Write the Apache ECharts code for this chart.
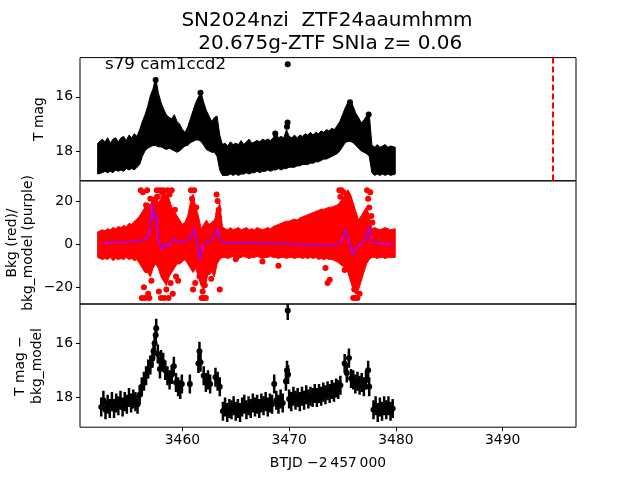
<!DOCTYPE html>
<html>
<head>
<meta charset="utf-8">
<script src="https://cdn.jsdelivr.net/npm/echarts@6/dist/echarts.min.js"></script>
<style>html,body{margin:0;background:#fff}#chart{width:640px;height:480px}</style>
</head>
<body>
<div id="chart"></div>
<script>
// time grid used by the dense light curve and background panels (BTJD - 2457000)
var gridStart = 3452.25;
var gridStep = 0.25;

// top panel: envelope of the raw TESS points (bright edge / faint edge, mag)
var topBright = [17.8,17.65,17.75,17.6,17.8,17.65,17.6,17.75,17.6,17.55,17.7,17.5,17.6,17.45,17.55,
  17.3,17.0,16.75,16.45,16.05,15.8,15.38,15.95,16.3,16.55,16.75,16.85,16.9,16.75,17.0,17.1,
  17.3,17.4,17.2,16.9,16.6,16.3,16.1,15.95,16.3,16.6,16.8,17.0,16.85,16.8,17.5,17.85,
  17.8,17.9,17.75,17.85,17.8,17.85,17.7,17.85,17.75,17.65,17.8,17.75,17.7,17.75,17.65,17.7,
  17.65,17.7,17.6,17.4,17.6,17.55,17.6,17.3,17.55,17.6,17.5,17.6,17.5,17.55,17.45,17.5,
  17.4,17.5,17.4,17.45,17.35,17.4,17.3,17.35,17.25,17.3,17.15,17.0,16.75,16.5,16.3,16.2,
  16.45,16.7,16.85,17.05,16.95,16.8,16.7,17.85,17.95,17.85,17.95,17.9,17.85,17.95,17.9,17.95];
var topFaint = [18.75,18.7,18.65,18.7,18.65,18.7,18.6,18.65,18.6,18.65,18.55,18.6,18.55,18.6,18.5,
  18.4,18.1,17.9,17.8,17.75,17.7,17.7,17.75,17.75,17.8,17.85,17.8,17.85,17.9,17.95,17.9,
  17.8,17.72,17.7,17.6,17.55,17.5,17.5,17.55,17.7,17.85,17.9,17.95,17.95,18.1,18.6,18.8,
  18.8,18.8,18.75,18.8,18.75,18.8,18.75,18.75,18.7,18.75,18.7,18.7,18.65,18.7,18.65,18.65,
  18.6,18.65,18.6,18.6,18.55,18.6,18.55,18.55,18.5,18.5,18.5,18.45,18.45,18.4,18.4,18.4,
  18.35,18.35,18.3,18.3,18.25,18.2,18.2,18.15,18.1,18.05,18.0,17.9,17.75,17.6,17.55,17.55,
  17.6,17.7,17.8,17.9,17.95,18.0,18.1,18.7,18.8,18.75,18.8,18.75,18.8,18.75,18.8,18.75];
var topExtraDay = [3469.87, 3469.85, 3469.8, 3468.7, 3461.7, 3457.5, 3475.7, 3477.45];
var topExtraMag = [14.8, 16.95, 17.1, 17.35, 15.85, 15.38, 16.2, 16.65];
var snDay = 3494.7;

// middle panel: background flux envelope (red) and model (purple)
var bkgHi = [4.5,5.5,5,6,5.5,6.5,6,7,6.5,7.5,7,8.5,8,9.5,10.5,
  12,14,16,18,17,20,22,18,20,24,22,20,16,14,12,10,
  8,9,12,18,22,16,12,6,8,10,8,9,10,14,18,7,
  6,5.5,6.5,5.5,6,6.5,5.5,6,6.5,5.5,6,5.5,6.5,6,5.5,6,
  6.5,6,7,7.5,8,8.5,9,9.5,9.5,10,10.5,10,11,11.5,12,12.5,
  13,13.5,14,14.5,15,15,15.5,16,16,16.5,17,18,20,22,24,22,
  18,14,10,12,14,16,12,6,6.5,6,5.5,6,6.5,6,5.5,6];
var bkgLo = [-5,-6,-5.5,-6,-5,-6.5,-5.5,-6,-5.5,-6,-5,-6,-5.5,-6.5,-6,
  -8,-10,-12,-12,-14,-10,-8,-10,-14,-16,-18,-14,-12,-10,-8,-8,
  -7,-6,-8,-10,-12,-10,-14,-18,-20,-16,-10,-12,-14,-8,-6,-5,
  -5,-5.5,-5,-4.5,-5,-5.5,-5,-4.5,-5,-5.5,-5,-5,-4.5,-5,-5.5,-5,
  -5,-4.5,-5,-5,-5.5,-5,-5,-5.5,-5,-5,-5.5,-5,-5,-5.5,-5,-5.5,
  -5,-5.5,-5,-6,-5.5,-6,-5.5,-6,-6,-6.5,-7,-8,-9,-10,-12,-16,
  -20,-22,-20,-16,-12,-8,-6,-5,-5,-5.5,-5,-5,-5.5,-5,-5,-5];
var bkgOutDay = [3456.1,3456.2,3456.3,3456.4,3456.5,3456.6,3456.7,3456.8,3456.9,3457.0,3457.1,
  3457.6,3457.7,3457.8,3457.9,3458.0,3458.1,3458.2,3458.3,3458.4,3458.5,3458.6,3458.7,3458.8,3458.9,
  3459.0,3459.1,3459.3,3459.4,3459.6,3460.8,3460.9,3461.0,3461.1,3461.2,3461.3,
  3461.6,3461.8,3461.9,3462.0,3462.1,3462.2,3462.4,3462.7,3463.2,3463.3,3463.4,3463.5,3463.35,
  3465.0,3467.5,3469.0,3473.4,3473.6,3473.8,
  3474.7,3474.8,3474.9,3475.0,3475.1,3475.2,3476.0,3476.1,3476.2,3476.3,3476.4,3476.5,3476.6,
  3477.3,3477.4,3477.5,3477.6,3477.7,3477.8];
var bkgOutVal = [25,-25,24,-20,-25,18,25,-23,-25,21,-17,
  25,22,-22,25,-25,24,25,-25,20,-21,25,-25,23,-18,
  25,-23,16,-15,-17,25,21,-21,25,-18,17,
  -15,-25,-22,-25,-19,-25,-13,-16,23,20,16,-21,14,
  -7,-8,-10,-11,-18,-16.5,
  25,22,25,19,24,-12,-25,-21,-25,-18,-25,-14,-23,
  25,21,17,24,13,10];
var modelDay = [3452.44,3453.5,3455.1,3456.35,3456.66,3456.97,3457.2,3457.4,3457.6,3457.75,3458.07,
  3458.4,3458.7,3459.2,3459.5,3460.1,3460.7,3461.1,3461.35,3461.66,3461.9,3462.3,3462.75,3463.07,
  3463.3,3463.5,3463.85,3466.0,3469.2,3472.3,3474.2,3474.9,3475.25,3475.4,3475.65,3475.97,3476.3,
  3476.8,3477.2,3477.5,3477.75,3478.5,3479.8];
var modelVal = [0.3,0.8,1.1,1.9,2.6,6.5,18.8,11.1,13.4,1.9,-2.7,
  0.3,-1.2,2.6,1.1,1.1,2.6,7.2,1.1,-7.4,-1.2,1.1,1.9,5.0,
  7.2,1.9,0.6,0.6,0.3,-0.5,-0.5,1.1,6.5,7.2,1.1,-5.1,-1.2,
  0.3,2.6,8.0,1.1,0.3,0.0];

// bottom panel: binned T mag - bkg_model with error bars
var resDay = [3452.4,3452.6,3452.8,3453.0,3453.2,3453.4,3453.6,3453.8,3454.0,3454.2,3454.4,3454.6,
  3454.8,3455.0,3455.2,3455.4,3455.6,3455.8,3456.0,3456.2,3456.4,3456.6,3456.8,3457.0,3457.2,3457.3,
  3457.4,3457.5,3457.55,3457.7,3457.9,3458.0,3458.2,3458.4,3458.6,3458.8,3459.0,3459.2,3459.4,3459.6,
  3459.8,3459.95,3460.7,3461.5,3461.6,3461.7,3462.0,3462.2,3462.4,3462.6,3463.1,3463.3,3463.5,
  3463.8,3464.0,3464.2,3464.4,3464.6,3464.8,3465.0,3465.2,3465.4,3465.6,3465.8,3466.0,3466.2,3466.4,
  3466.6,3466.8,3467.0,3467.2,3467.4,3467.6,3467.8,3468.0,3468.2,3468.4,3468.6,3468.8,3469.0,3469.2,
  3469.4,3469.7,3469.8,3469.87,3469.9,3470.0,3470.2,3470.4,3470.6,3470.8,3471.0,3471.2,3471.4,3471.6,
  3471.8,3472.0,3472.2,3472.4,3472.6,3472.8,3473.0,3473.2,3473.4,3473.6,3473.8,3474.0,3474.2,3474.4,
  3474.6,3474.8,3475.2,3475.4,3475.6,3475.8,3476.0,3476.2,3476.4,3476.6,3476.8,3477.0,3477.2,3477.4,
  3477.5,3477.9,3478.1,3478.3,3478.5,3478.7,3478.9,3479.1,3479.3,3479.5,3479.7];
var resMag = [18.35,18.1,18.45,18.25,18.4,18.15,18.4,18.2,18.3,18.1,18.35,18.15,
  18.25,18.0,18.2,18.05,18.15,18.25,17.9,17.6,17.4,17.2,16.95,16.8,16.55,16.3,
  16.0,15.7,15.45,16.4,16.95,16.6,16.7,17.0,17.2,17.35,17.15,16.85,17.45,17.6,
  17.7,17.5,17.5,16.75,16.3,16.7,17.2,17.45,17.35,17.5,17.25,17.4,17.6,
  18.5,18.35,18.55,18.4,18.45,18.3,18.5,18.4,18.55,18.35,18.25,18.45,18.3,18.4,
  18.2,18.35,18.25,18.4,18.2,18.3,18.15,18.35,18.2,18.25,17.5,18.1,18.25,18.05,
  18.2,17.4,17.0,14.8,17.15,18.05,18.15,17.95,18.1,18.0,18.15,17.95,18.1,17.9,
  18.05,17.95,18.0,17.85,18.0,17.85,17.95,17.8,17.9,17.75,17.85,17.7,17.8,17.65,
  17.7,17.55,16.75,17.1,16.55,17.3,17.35,17.5,17.4,17.55,17.45,17.6,17.35,17.0,
  17.6,18.45,18.3,18.55,18.35,18.5,18.3,18.45,18.3,18.5,18.4];
var resErr = 0.35;

var xMin = 3450.41, xMax = 3496.87;
var magMin = 14.56, magMax = 19.09;
var bkgMin = -27.74, bkgMax = 29.36;
var xTicks = [3460, 3470, 3480, 3490];

var font = 'DejaVu Sans';
var chart = echarts.init(document.getElementById('chart'));

var topBand = topBright.map(function (v, i) { return [gridStart + i * gridStep, v, topFaint[i]]; });
var bkgBand = bkgHi.map(function (v, i) { return [gridStart + i * gridStep, v, bkgLo[i]]; });
var topExtra = topExtraDay.map(function (d, i) { return [d, topExtraMag[i]]; });
var bkgOut = bkgOutDay.map(function (d, i) { return [d, bkgOutVal[i]]; });
var model = modelDay.map(function (d, i) { return [d, modelVal[i]]; });
var res = resDay.map(function (d, i) { return [d, resMag[i], resErr]; });

// one filled envelope through all samples, padded by a marker radius
function band(color, arr) {
  return function (params, api) {
    if (params.dataIndex !== 0) return;
    var upper = [], lower = [];
    arr.forEach(function (p) {
      var a = api.coord([p[0], p[1]]);
      var b = api.coord([p[0], p[2]]);
      upper.push([a[0], a[1] - 2.5]);
      lower.unshift([b[0], b[1] + 2.5]);
    });
    var first = upper[0][0], last = upper[upper.length - 1][0];
    upper[0][0] = first - 2; upper[upper.length - 1][0] = last + 2;
    lower[0][0] = last + 2; lower[lower.length - 1][0] = first - 2;
    return {
      type: 'polygon',
      shape: { points: upper.concat(lower) },
      style: { fill: color, stroke: color, lineWidth: 1 }
    };
  };
}

function errBar(params, api) {
  var x = api.value(0), y = api.value(1), e = api.value(2);
  var a = api.coord([x, y - e]);
  var b = api.coord([x, y + e]);
  return {
    type: 'line',
    shape: { x1: a[0], y1: a[1], x2: b[0], y2: b[1] },
    style: { stroke: '#000', lineWidth: 2.5 }
  };
}

function fmt(v) { return v < 0 ? '\u2212' + (-v) : String(v); }

function xAxis(idx, labels) {
  return {
    type: 'value', gridIndex: idx, min: xMin, max: xMax,
    axisLine: { show: false }, splitLine: { show: false },
    axisTick: { show: labels, customValues: xTicks, length: 4, lineStyle: { color: '#000' } },
    axisLabel: { show: labels, customValues: xTicks, color: '#000', fontSize: 13.9, fontFamily: font, margin: 6, formatter: fmt }
  };
}
function yAxis(idx, min, max, ticks, inverse) {
  return {
    type: 'value', gridIndex: idx, min: min, max: max, inverse: inverse,
    axisLine: { show: false }, splitLine: { show: false },
    axisTick: { show: true, customValues: ticks, length: 4, lineStyle: { color: '#000' } },
    axisLabel: { customValues: ticks, color: '#000', fontSize: 13.9, fontFamily: font, margin: 7, formatter: fmt }
  };
}

var gridBase = { left: 80, width: 496, height: 123.2, show: true, borderColor: '#000', borderWidth: 1, backgroundColor: 'transparent' };

function txt(x, y, s, size, rot, align) {
  return {
    type: 'text', x: x, y: y, rotation: rot || 0, z: 100,
    style: { text: s, fill: '#000', fontSize: size, fontFamily: font, align: align || 'center', verticalAlign: 'middle' }
  };
}

chart.setOption({
  animation: false,
  grid: [
    Object.assign({ top: 57.6 }, gridBase),
    Object.assign({ top: 180.8 }, gridBase),
    Object.assign({ top: 304 }, gridBase)
  ],
  xAxis: [xAxis(0, false), xAxis(1, false), xAxis(2, true)],
  yAxis: [
    yAxis(0, magMin, magMax, [16, 18], true),
    yAxis(1, bkgMin, bkgMax, [-20, 0, 20], false),
    yAxis(2, magMin, magMax, [16, 18], true)
  ],
  series: [
    {
      type: 'custom', xAxisIndex: 0, yAxisIndex: 0, clip: true,
      renderItem: band('#000', topBand), data: topBand, encode: { x: 0, y: [1, 2] },
      markLine: {
        silent: true, symbol: 'none', label: { show: false },
        lineStyle: { color: '#ff0000', type: [6, 3], width: 2 },
        data: [{ xAxis: snDay }]
      }
    },
    {
      type: 'scatter', xAxisIndex: 0, yAxisIndex: 0, symbolSize: 6,
      itemStyle: { color: '#000', opacity: 1 }, data: topExtra
    },
    {
      type: 'custom', xAxisIndex: 1, yAxisIndex: 1, clip: true, z: 1,
      renderItem: band('#ff0000', bkgBand), data: bkgBand, encode: { x: 0, y: [1, 2] }
    },
    {
      type: 'scatter', xAxisIndex: 1, yAxisIndex: 1, symbolSize: 6, z: 2,
      itemStyle: { color: '#ff0000', opacity: 1 }, data: bkgOut
    },
    {
      type: 'line', xAxisIndex: 1, yAxisIndex: 1, z: 3, showSymbol: false,
      lineStyle: { color: '#b000c8', width: 2.2 }, data: model
    },
    {
      type: 'custom', xAxisIndex: 2, yAxisIndex: 2, clip: true,
      renderItem: errBar, data: res, encode: { x: 0, y: 1 }
    },
    {
      type: 'scatter', xAxisIndex: 2, yAxisIndex: 2, symbolSize: 6,
      itemStyle: { color: '#000', opacity: 1 }, data: res.map(function (r) { return [r[0], r[1]]; })
    }
  ],
  graphic: [
    txt(327, 21, 'SN2024nzi  ZTF24aaumhmm', 20),
    txt(327, 44, ' 20.675g-ZTF SNIa z= 0.06', 20),
    txt(105, 65, 's79 cam1ccd2', 16.7, 0, 'left'),
    txt(39, 119, 'T mag', 13.9, Math.PI / 2),
    txt(12, 243, 'Bkg (red)/', 13.9, Math.PI / 2),
    txt(28, 243, 'bkg_model (purple)', 13.9, Math.PI / 2),
    txt(20, 366, 'T mag \u2212', 13.9, Math.PI / 2),
    txt(37, 366, 'bkg_model', 13.9, Math.PI / 2),
    txt(328, 463, 'BTJD \u22122\u2009457\u2009000', 13.9)
  ]
});
</script>
</body>
</html>
